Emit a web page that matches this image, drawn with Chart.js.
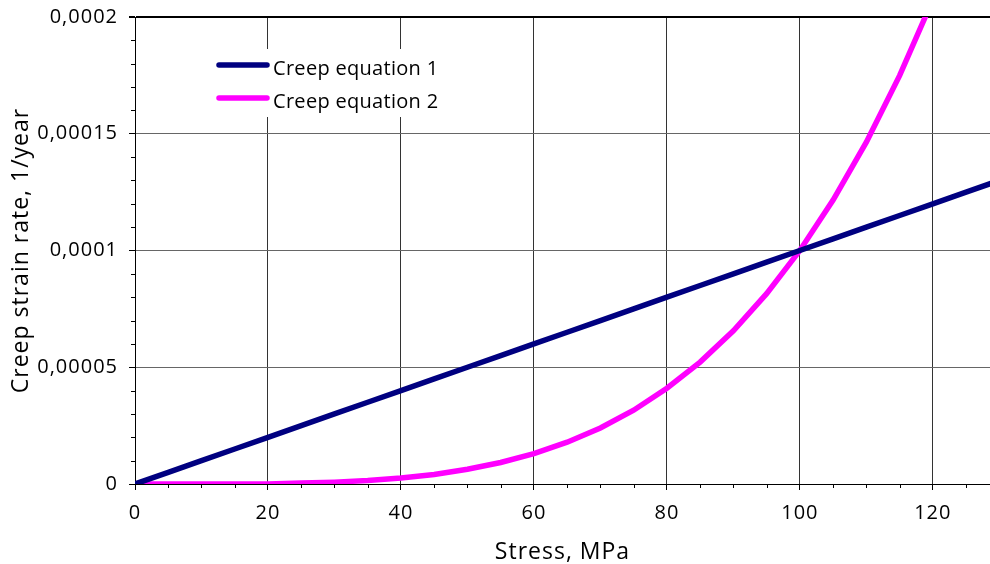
<!DOCTYPE html>
<html>
<head>
<meta charset="utf-8">
<script src="https://cdn.jsdelivr.net/npm/chart.js@4.4.1/dist/chart.umd.min.js"></script>
<style>
  html, body { margin: 0; padding: 0; background: #fff; }
  #wrap { width: 990px; height: 564px; position: relative; }
</style>
</head>
<body>
<div id="wrap"><canvas id="creepChart"></canvas></div>
<script>
// stress, MPa
const stress = [0, 5, 10, 15, 20, 25, 30, 35, 40, 45, 50, 55, 60, 65, 70, 75, 80, 85, 90, 95, 100, 105, 110, 115, 120, 125, 130];
// creep strain rate, 1/year
const creep1 = [0, 0.000005, 0.00001, 0.000015, 0.00002, 0.000025, 0.00003, 0.000035, 0.00004, 0.000045, 0.00005, 0.000055, 0.00006, 0.000065, 0.00007, 0.000075, 0.00008, 0.000085, 0.00009, 0.000095, 0.0001, 0.000105, 0.00011, 0.000115, 0.00012, 0.000125, 0.00013];
const creep2 = [0, 0, 0, 0, 0, 0.0000004, 0.0000008, 0.0000015, 0.0000026, 0.0000041, 0.0000063, 0.0000092, 0.000013, 0.0000179, 0.000024, 0.0000316, 0.000041, 0.0000522, 0.0000656, 0.0000815, 0.0001, 0.0001216, 0.0001464, 0.0001749, 0.0002074, 0.0002441, 0.0002856];
const seriesNames = ['Creep equation 1', 'Creep equation 2'];
const seriesColors = ['#000080', '#ff00ff'];
const yTickLabels = ['0', '0,00005', '0,0001', '0,00015', '0,0002'];

const FONT = "'Open Sans', 'Noto Sans', sans-serif";

// small tick marks between the labelled ones
const minorTicks = {
    id: 'minorTicks',
    afterDraw(chart) {
        const { ctx, scales: { x, y } } = chart;
        ctx.save();
        ctx.strokeStyle = '#000';
        ctx.lineWidth = 1;
        ctx.beginPath();
        for (let v = 5; v <= x.max; v += 5) {
            if (v % 20 === 0) continue;
            const px = Math.round(x.getPixelForValue(v)) + 0.5;
            ctx.moveTo(px, y.bottom);
            ctx.lineTo(px, y.bottom + 4);
        }
        for (let i = 1; i < 20; i++) {
            if (i % 5 === 0) continue;
            const py = Math.round(y.getPixelForValue(i * 0.00001)) + 0.5;
            ctx.moveTo(x.left - 4, py);
            ctx.lineTo(x.left, py);
        }
        ctx.stroke();
        ctx.restore();
    }
};

// legend sits inside the plot on a white patch
const insideLegend = {
    id: 'insideLegend',
    beforeDatasetsDraw(chart) {
        const { ctx, chartArea } = chart;
        const bx = chartArea.left + 70, by = chartArea.top + 32;
        ctx.save();
        ctx.fillStyle = '#fff';
        ctx.fillRect(bx, by, 255, 68);
        ctx.letterSpacing = '0.3px';
        ctx.font = '20px ' + FONT;
        ctx.textBaseline = 'alphabetic';
        ctx.textAlign = 'left';
        chart.data.datasets.forEach((ds, i) => {
            const ly = by + 16 + i * 33;
            ctx.strokeStyle = ds.borderColor;
            ctx.lineWidth = 5.5;
            ctx.lineCap = 'round';
            ctx.beginPath();
            ctx.moveTo(bx + 14, ly);
            ctx.lineTo(bx + 62, ly);
            ctx.stroke();
            ctx.fillStyle = '#000';
            ctx.fillText(ds.label, bx + 68, ly + 10);
        });
        ctx.restore();
    }
};

const spacing = {
    id: 'spacing',
    beforeDraw(chart) { chart.ctx.letterSpacing = '1px'; }
};

const ctx = document.getElementById('creepChart').getContext('2d');
new Chart(ctx, {
    type: 'line',
    data: {
        datasets: [creep1, creep2].map((vals, i) => ({
            label: seriesNames[i],
            data: stress.map((s, j) => ({ x: s, y: vals[j] })),
            borderColor: seriesColors[i],
            backgroundColor: seriesColors[i],
            borderWidth: 5.5,
            pointRadius: 0,
            tension: 0,
            fill: false,
            clip: 0
        }))
    },
    options: {
        responsive: true, maintainAspectRatio: false, animation: false,
        layout: { padding: { top: 0, right: 0, left: 0, bottom: 0 } },
        plugins: { legend: { display: false }, tooltip: { enabled: false } },
        scales: {
            x: {
                type: 'linear', min: 0, max: 128.6,
                afterFit: (s) => { s.height = 80; },
                ticks: { stepSize: 20, includeBounds: false, color: '#000', padding: 11, font: { family: FONT, size: 20 } },
                grid: { color: '#333', lineWidth: 1, tickColor: '#000', tickLength: 6 },
                border: { color: '#000', width: 1 },
                title: { display: true, text: 'Stress, MPa', color: '#000', padding: { top: 0, bottom: 0 }, font: { family: FONT, size: 23, lineHeight: 1 } }
            },
            y: {
                min: 0, max: 0.0002,
                afterFit: (s) => { s.width = 135; },
                ticks: { stepSize: 0.00005, color: '#000', padding: 11, font: { family: FONT, size: 20, lineHeight: 0.6 },
                         callback: (v, i) => yTickLabels[i] },
                grid: {
                    color: (c) => c.index === yTickLabels.length - 1 ? '#000' : '#666',
                    lineWidth: (c) => c.index === yTickLabels.length - 1 ? 2 : 1,
                    tickColor: '#000', tickLength: 6
                },
                border: { color: '#000', width: 1 },
                title: { display: true, text: 'Creep strain rate, 1/year', color: '#000', padding: { top: 8, bottom: 0 }, font: { family: FONT, size: 23 } }
            }
        }
    },
    plugins: [spacing, minorTicks, insideLegend]
});
</script>
</body>
</html>
